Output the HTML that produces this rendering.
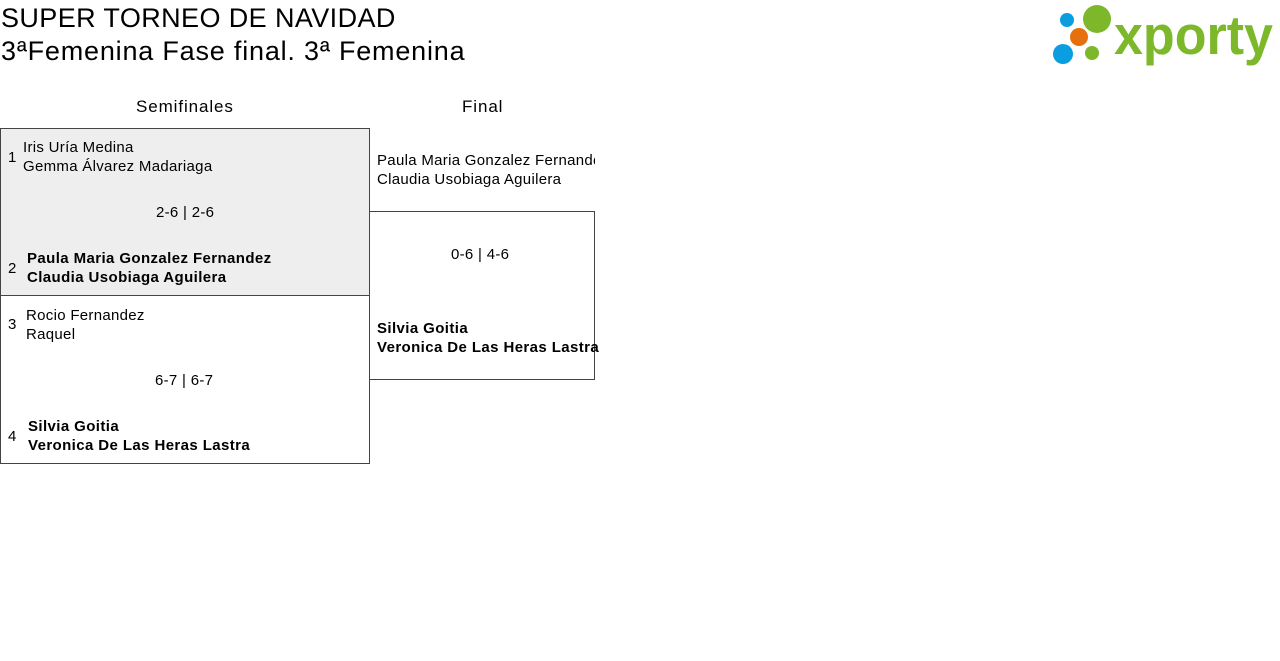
<!DOCTYPE html>
<html><head><meta charset="utf-8"><style>
body{margin:0;width:1280px;height:661px;background:#fff;position:relative;overflow:hidden;font-family:"Liberation Sans",sans-serif;color:#000}
.a{position:absolute;white-space:nowrap}
.t{font-size:27px;line-height:32px;letter-spacing:0.4px}
.s{font-size:15px;line-height:19px;letter-spacing:0.3px}
.b{font-weight:bold;letter-spacing:0.4px}
.h{font-size:17px;letter-spacing:0.9px}
.box{position:absolute;border:1px solid #444;box-sizing:border-box}
</style></head><body>
<div class="a t" style="left:1px;top:2px">SUPER TORNEO DE NAVIDAD</div>
<div class="a t" style="left:1px;top:35px;letter-spacing:0.8px">3ªFemenina Fase final. 3ª Femenina</div>

<svg class="a" style="left:1045px;top:0" width="235" height="70">
<circle cx="22" cy="20" r="7" fill="#0a9de0"/>
<circle cx="52" cy="19" r="14" fill="#7cb82a"/>
<circle cx="34" cy="37" r="9" fill="#e5700d"/>
<circle cx="18" cy="54" r="10" fill="#0a9de0"/>
<circle cx="47" cy="53" r="7" fill="#7cb82a"/>
<text x="69" y="54" font-family="Liberation Sans" font-weight="bold" font-size="55" fill="#7cb82a" textLength="159" lengthAdjust="spacingAndGlyphs">xporty</text>
</svg>

<div class="a h" style="left:136px;top:97px">Semifinales</div>
<div class="a h" style="left:462px;top:97px">Final</div>

<div class="box" style="left:0;top:128px;width:370px;height:168px;background:#eeeeee"></div>
<div class="box" style="left:0;top:295px;width:370px;height:169px"></div>
<div class="box" style="left:369px;top:211px;width:226px;height:169px"></div>

<div class="a s" style="left:8px;top:148px">1</div>
<div class="a s" style="left:23px;top:138px">Iris Uría Medina<br>Gemma Álvarez Madariaga</div>
<div class="a s" style="left:156px;top:203px">2-6 | 2-6</div>
<div class="a s" style="left:8px;top:259px">2</div>
<div class="a s b" style="left:27px;top:249px">Paula Maria Gonzalez Fernandez<br>Claudia Usobiaga Aguilera</div>

<div class="a s" style="left:8px;top:315px">3</div>
<div class="a s" style="left:26px;top:306px">Rocio Fernandez<br>Raquel</div>
<div class="a s" style="left:155px;top:371px">6-7 | 6-7</div>
<div class="a s" style="left:8px;top:427px">4</div>
<div class="a s b" style="left:28px;top:417px">Silvia Goitia<br>Veronica De Las Heras Lastra</div>

<div class="a s" style="left:377px;top:151px;width:218px;overflow:hidden">Paula Maria Gonzalez Fernandez<br>Claudia Usobiaga Aguilera</div>
<div class="a s" style="left:451px;top:245px">0-6 | 4-6</div>
<div class="a s b" style="left:377px;top:319px">Silvia Goitia<br>Veronica De Las Heras Lastra</div>
</body></html>
